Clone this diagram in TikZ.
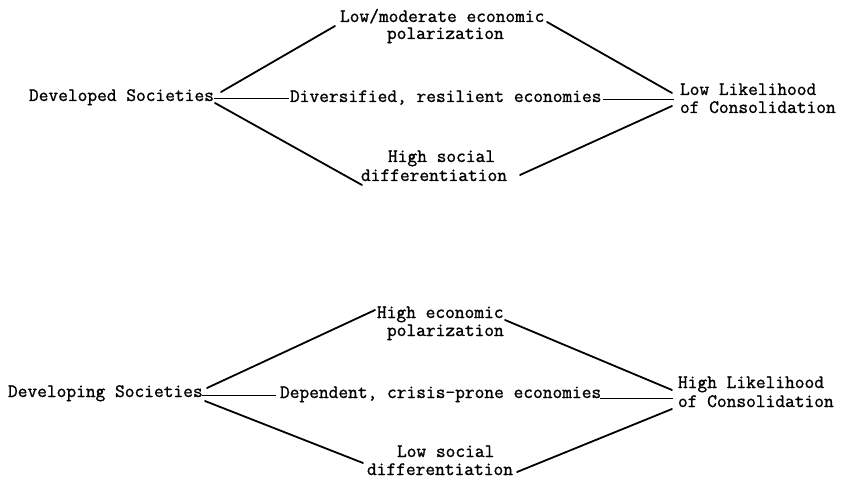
\documentclass[tikz,border=0pt]{standalone}
\usepackage{fontspec}
\newfontfamily\typew[FakeBold=1.2]{Latin Modern Mono}
\begin{document}
\begin{tikzpicture}[x=1pt,y=-1pt,
  lbl/.style={anchor=base west,inner sep=0pt,outer sep=0pt,font=\typew\fontsize{18.9}{18}\selectfont},
  diag/.style={line width=1.8pt,line cap=round},
  flat/.style={line width=1pt}]
\useasboundingbox (0,0) rectangle (845,478);
% ---------- top diagram ----------
\node[lbl] (dev) at (29,101) {Developed Societies};
\node[lbl] (lm1) at (340,22) {Low/moderate economic};
\node[lbl] (lm2) at (387,39) {polarization};
\node[lbl] (div) at (290,102) {Diversified, resilient economies};
\node[lbl] (hs1) at (388,162) {High social};
\node[lbl] (hs2) at (361,181) {differentiation};
\node[lbl] (ll1) at (680,95) {Low Likelihood};
\node[lbl] (ll2) at (680,113) {of Consolidation};
\coordinate (t1) at (221,92);  \coordinate (t2) at (335,26);
\coordinate (t3) at (214,99);  \coordinate (t4) at (289,99);
\coordinate (t5) at (215,103); \coordinate (t6) at (362,185);
\coordinate (t7) at (547,22);  \coordinate (t8) at (672,93);
\coordinate (t9) at (603,100); \coordinate (t10) at (674,100);
\coordinate (t11) at (520,175);\coordinate (t12) at (672,106);
\draw[diag] (t1) -- (t2);
\draw[flat] (t3) -- (t4);
\draw[diag] (t5) -- (t6);
\draw[diag] (t7) -- (t8);
\draw[flat] (t9) -- (t10);
\draw[diag] (t11) -- (t12);
% ---------- bottom diagram ----------
\node[lbl] (dvg) at (8,397) {Developing Societies};
\node[lbl] (he1) at (377,318) {High economic};
\node[lbl] (he2) at (387,336) {polarization};
\node[lbl] (dep) at (280,398) {Dependent, crisis-prone economies};
\node[lbl] (ls1) at (397,457) {Low social};
\node[lbl] (ls2) at (367,475) {differentiation};
\node[lbl] (hl1) at (678,388) {High Likelihood};
\node[lbl] (hl2) at (678,407) {of Consolidation};
\coordinate (b1) at (207,388);  \coordinate (b2) at (375,310);
\coordinate (b3) at (202,395);  \coordinate (b4) at (276,395);
\coordinate (b5) at (205,401);  \coordinate (b6) at (363,463);
\coordinate (b7) at (505,320);  \coordinate (b8) at (672,390);
\coordinate (b9) at (600,398);  \coordinate (b10) at (673,398);
\coordinate (b11) at (517,472); \coordinate (b12) at (672,409);
\draw[diag] (b1) -- (b2);
\draw[flat] (b3) -- (b4);
\draw[diag] (b5) -- (b6);
\draw[diag] (b7) -- (b8);
\draw[flat] (b9) -- (b10);
\draw[diag] (b11) -- (b12);
\end{tikzpicture}
\end{document}
